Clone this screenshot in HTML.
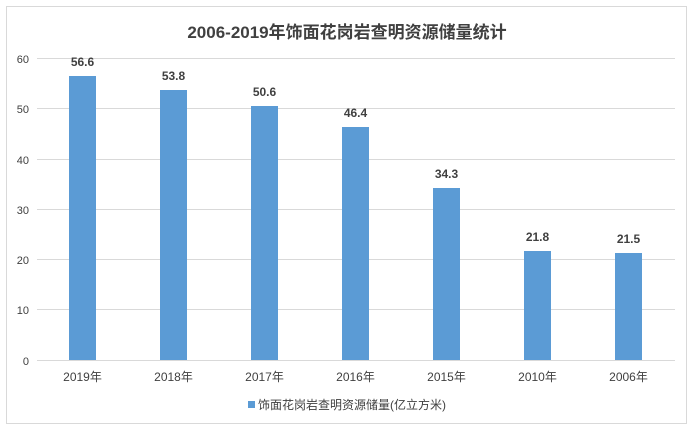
<!DOCTYPE html>
<html><head><meta charset="utf-8"><style>body{margin:0;background:#fff}svg{display:block}</style></head><body>
<svg width="695" height="431" xmlns="http://www.w3.org/2000/svg" font-family="Liberation Sans, Noto Sans CJK SC, sans-serif">
<rect x="0" y="0" width="695" height="431" fill="#fff"/>
<rect x="6.5" y="6.5" width="680" height="417" fill="#fff" stroke="#d9d9d9"/>
<text x="347" y="38" text-anchor="middle" font-size="17" font-weight="bold" fill="#404040">2006-2019年饰面花岗岩查明资源储量统计</text>
<g stroke="#d9d9d9" stroke-width="1">
<line x1="37" x2="675" y1="58.5" y2="58.5"/><line x1="37" x2="675" y1="108.5" y2="108.5"/><line x1="37" x2="675" y1="159.5" y2="159.5"/><line x1="37" x2="675" y1="209.5" y2="209.5"/><line x1="37" x2="675" y1="259.5" y2="259.5"/><line x1="37" x2="675" y1="309.5" y2="309.5"/><line x1="37" x2="675" y1="360.5" y2="360.5"/>
</g>
<g font-size="11" fill="#404040" text-anchor="end">
<text x="29" y="63">60</text><text x="29" y="113">50</text><text x="29" y="164">40</text><text x="29" y="214">30</text><text x="29" y="264">20</text><text x="29" y="314">10</text><text x="29" y="365">0</text>
</g>
<g fill="#5b9bd5">
<rect x="69" y="76" width="27" height="284"/>
<rect x="160" y="90" width="27" height="270"/>
<rect x="251" y="106" width="27" height="254"/>
<rect x="342" y="127" width="27" height="233"/>
<rect x="433" y="188" width="27" height="172"/>
<rect x="524" y="251" width="27" height="109"/>
<rect x="615" y="253" width="27" height="107"/>
</g>
<g font-size="12" font-weight="bold" fill="#404040" text-anchor="middle">
<text x="82.5" y="66">56.6</text><text x="173.5" y="80">53.8</text><text x="264.5" y="96">50.6</text><text x="355.5" y="117">46.4</text><text x="446.5" y="178">34.3</text><text x="537.5" y="241">21.8</text><text x="628.5" y="243">21.5</text>
</g>
<g font-size="12" fill="#404040" text-anchor="middle">
<text x="82.5" y="381">2019年</text><text x="173.5" y="381">2018年</text><text x="264.5" y="381">2017年</text><text x="355.5" y="381">2016年</text><text x="446.5" y="381">2015年</text><text x="537.5" y="381">2010年</text><text x="628.5" y="381">2006年</text>
</g>
<rect x="248" y="401" width="7" height="7" fill="#5b9bd5"/>
<text x="258" y="409" font-size="12" fill="#404040">饰面花岗岩查明资源储量(亿立方米)</text>
</svg>
</body></html>
